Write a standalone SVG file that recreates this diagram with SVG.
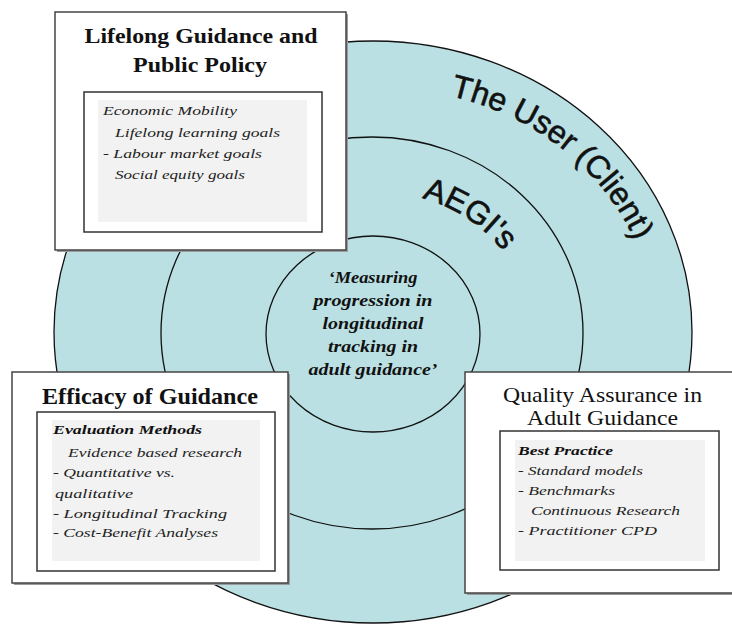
<svg xmlns="http://www.w3.org/2000/svg" width="732" height="625" viewBox="0 0 732 625">
<style>
.ring{fill:#bae0e3;stroke:#111;stroke-width:1.3}
.box{fill:#fff;stroke:#444;stroke-width:1.5}
.shadow{fill:#9a9a9a}
.inbox{fill:#fff;stroke:#333;stroke-width:1.5}
.gray{fill:#f2f2f2}
.title{font-family:"Liberation Serif","Times New Roman",serif;font-weight:bold;fill:#111;text-anchor:middle}
.titler{font-family:"Liberation Serif","Times New Roman",serif;fill:#111;text-anchor:middle}
.list{font-family:"Liberation Serif","Times New Roman",serif;font-style:italic;font-size:13px;fill:#222}
.listh{font-family:"Liberation Serif","Times New Roman",serif;font-style:italic;font-weight:bold;font-size:13px;fill:#111}
.core{font-family:"Liberation Serif","Times New Roman",serif;font-style:italic;font-weight:bold;font-size:16px;fill:#111;text-anchor:middle}
.arc{font-family:"Liberation Sans",Arial,sans-serif;font-size:32px;fill:#111;stroke:#111;stroke-width:0.6}
</style>
<defs>
<path id="userArc" d="M450,96 A270,246 0 0 1 655,320"/>
<path id="aegiArc" d="M422,198 A155,138 0 0 1 530,320"/>
</defs>
<g id="outer-ring">
<ellipse class="ring" cx="373" cy="332" rx="319" ry="291"/>
<text class="arc" font-size="33"><textPath href="#userArc">The User (Client)</textPath></text>
</g>
<g id="middle-ring">
<ellipse class="ring" cx="372" cy="333" rx="211" ry="196"/>
<text class="arc" font-size="37"><textPath href="#aegiArc">AEGI's</textPath></text>
</g>
<g id="core">
<ellipse class="ring" cx="373" cy="334" rx="107" ry="98"/>
<text class="core" x="373" y="283" textLength="89" lengthAdjust="spacingAndGlyphs">‘Measuring</text>
<text class="core" x="373" y="306" textLength="119" lengthAdjust="spacingAndGlyphs">progression in</text>
<text class="core" x="373" y="329" textLength="101" lengthAdjust="spacingAndGlyphs">longitudinal</text>
<text class="core" x="373" y="352" textLength="90" lengthAdjust="spacingAndGlyphs">tracking in</text>
<text class="core" x="373" y="375" textLength="129" lengthAdjust="spacingAndGlyphs">adult guidance’</text>
</g>
<g id="lifelong">
<rect class="shadow" x="57" y="14" width="291" height="238"/>
<rect class="box" x="55" y="12" width="291" height="238"/>
<rect class="inbox" x="84" y="92" width="238" height="140"/>
<rect class="gray" x="98" y="100" width="209" height="122"/>
<text class="title" x="201" y="43" font-size="21" textLength="233" lengthAdjust="spacingAndGlyphs">Lifelong Guidance and</text>
<text class="title" x="200" y="72" font-size="21" textLength="134" lengthAdjust="spacingAndGlyphs">Public Policy</text>
<text class="list" x="103" y="115" textLength="134" lengthAdjust="spacingAndGlyphs">Economic Mobility</text>
<text class="list" x="115" y="137" textLength="165" lengthAdjust="spacingAndGlyphs">Lifelong learning goals</text>
<text class="list" x="103" y="158" textLength="159" lengthAdjust="spacingAndGlyphs">- Labour market goals</text>
<text class="list" x="115" y="179" textLength="130" lengthAdjust="spacingAndGlyphs">Social equity goals</text>
</g>
<g id="efficacy">
<rect class="shadow" x="14" y="374" width="276" height="211"/>
<rect class="box" x="12" y="372" width="276" height="211"/>
<rect class="inbox" x="37" y="412" width="238" height="159"/>
<rect class="gray" x="52" y="420" width="208" height="141"/>
<text class="title" x="150" y="404" font-size="23" textLength="216" lengthAdjust="spacingAndGlyphs">Efficacy of Guidance</text>
<text class="listh" x="53" y="434" textLength="149" lengthAdjust="spacingAndGlyphs">Evaluation Methods</text>
<text class="list" x="68" y="457" textLength="174" lengthAdjust="spacingAndGlyphs">Evidence based research</text>
<text class="list" x="53" y="477" textLength="122" lengthAdjust="spacingAndGlyphs">- Quantitative vs.</text>
<text class="list" x="55" y="498" textLength="78" lengthAdjust="spacingAndGlyphs">qualitative</text>
<text class="list" x="53" y="518" textLength="174" lengthAdjust="spacingAndGlyphs">- Longitudinal Tracking</text>
<text class="list" x="53" y="537" textLength="165" lengthAdjust="spacingAndGlyphs">- Cost-Benefit Analyses</text>
</g>
<g id="quality">
<rect class="shadow" x="467" y="374" width="280" height="221"/>
<rect class="box" x="465" y="372" width="280" height="221"/>
<rect class="inbox" x="500" y="431" width="219" height="139"/>
<rect class="gray" x="515" y="440" width="190" height="121"/>
<text class="titler" x="602.5" y="402" font-size="21" textLength="199" lengthAdjust="spacingAndGlyphs">Quality Assurance in</text>
<text class="titler" x="602.5" y="425" font-size="21" textLength="151" lengthAdjust="spacingAndGlyphs">Adult Guidance</text>
<text class="listh" x="518" y="455" textLength="95" lengthAdjust="spacingAndGlyphs">Best Practice</text>
<text class="list" x="518" y="475" textLength="125" lengthAdjust="spacingAndGlyphs">- Standard models</text>
<text class="list" x="518" y="495" textLength="97" lengthAdjust="spacingAndGlyphs">- Benchmarks</text>
<text class="list" x="531" y="515" textLength="149" lengthAdjust="spacingAndGlyphs">Continuous Research</text>
<text class="list" x="518" y="535" textLength="139" lengthAdjust="spacingAndGlyphs">- Practitioner CPD</text>
</g>
</svg>
